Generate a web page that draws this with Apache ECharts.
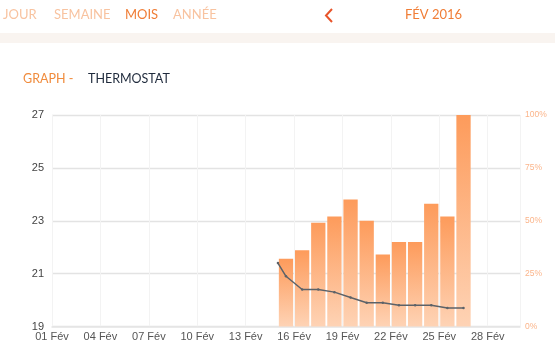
<!DOCTYPE html>
<html>
<head>
<meta charset="utf-8">
<script src="https://cdn.jsdelivr.net/npm/echarts@6/dist/echarts.min.js"></script>
<style>
  html, body { margin: 0; padding: 0; background: #fff; }
  #chart { width: 555px; height: 352px; }
</style>
</head>
<body>
<div id="chart"></div>
<script>
// jours depuis le 01 fév (0 = 01 Fév 00:00)
var barDays = [14.5, 15.5, 16.5, 17.5, 18.5, 19.5, 20.5, 21.5, 22.5, 23.5, 24.5, 25.5];
var heatPct = [32, 36, 49, 52, 60, 50, 34, 40, 40, 58, 52, 100];
var tempDays = [14, 14.5, 15.5, 16.5, 17.5, 18.5, 19.5, 20.5, 21.5, 22.5, 23.5, 24.5, 25.5];
var temps = [21.4, 20.9, 20.4, 20.4, 20.3, 20.1, 19.9, 19.9, 19.8, 19.8, 19.8, 19.7, 19.7];
var tabs = ['JOUR', 'SEMAINE', 'MOIS', 'ANNÉE'];
var tabX = [3, 54, 125, 173];

var chart = echarts.init(document.getElementById('chart'), null, { renderer: 'canvas' });

function pad(n) { return n < 10 ? '0' + n : '' + n; }

var graphics = [
  { type: 'rect', left: 0, top: 33, shape: { width: 555, height: 10 }, style: { fill: '#f9f4f0' } },
  { type: 'text', left: 405, top: 8, style: { text: 'FÉV 2016', fill: '#f07d36', font: '13px Lato' } },
  { type: 'polyline', shape: { points: [[332, 9], [326, 15.5], [332, 22]] }, style: { stroke: '#e8542a', lineWidth: 2, fill: null } },
  { type: 'text', left: 23, top: 72, style: { text: 'GRAPH -', fill: '#f08b3c', font: '12.5px Lato' } },
  { type: 'text', left: 88, top: 72, style: { text: 'THERMOSTAT', fill: '#1f2a3c', font: '12.5px Lato' } }
];
tabs.forEach(function (t, i) {
  graphics.push({
    type: 'text', left: tabX[i], top: 8,
    style: { text: t, fill: t === 'MOIS' ? '#f07d36' : '#f8c3a0', font: '13px Lato' }
  });
});

var option = {
  animation: false,
  graphic: graphics,
  grid: { left: 52, right: 35, top: 115, bottom: 25.5 },
  xAxis: {
    type: 'value',
    min: 0,
    max: 29,
    interval: 3,
    axisLine: { show: true, lineStyle: { color: '#e6e6e6', width: 1.5 } },
    axisTick: { show: false },
    axisLabel: {
      color: '#555', fontSize: 11, fontFamily: 'Arial', margin: 5, showMaxLabel: false,
      formatter: function (v) { return v > 27 ? '' : pad(v + 1) + ' Fév'; }
    },
    splitLine: { show: true, lineStyle: { color: '#f3f3f3' } }
  },
  yAxis: [
    {
      type: 'value', min: 19, max: 27, interval: 2,
      axisLine: { show: false }, axisTick: { show: false },
      axisLabel: { color: '#444', fontSize: 11, fontFamily: 'Arial', margin: 8 },
      splitLine: { lineStyle: { color: '#e3e3e3', width: 1.3 } }
    },
    {
      type: 'value', min: 0, max: 100, interval: 25, position: 'right',
      axisLine: { show: false }, axisTick: { show: false },
      axisLabel: { color: '#fbb58b', fontSize: 8.5, fontFamily: 'Arial', margin: 5, formatter: '{value}%' },
      splitLine: { show: false }
    }
  ],
  series: [
    {
      type: 'bar',
      yAxisIndex: 1,
      barWidth: 14.3,
      data: barDays.map(function (d, i) { return [d, heatPct[i]]; }),
      itemStyle: {
        color: new echarts.graphic.LinearGradient(0, 0, 0, 1, [
          { offset: 0, color: '#fd9b5b' },
          { offset: 1, color: '#fed3b5' }
        ])
      }
    },
    {
      type: 'line',
      yAxisIndex: 0,
      data: tempDays.map(function (d, i) { return [d, temps[i]]; }),
      symbol: 'circle',
      symbolSize: 2.5,
      lineStyle: { color: '#5c6268', width: 1.5 },
      itemStyle: { color: '#5c6268' }
    }
  ]
};

chart.setOption(option);
</script>
</body>
</html>
